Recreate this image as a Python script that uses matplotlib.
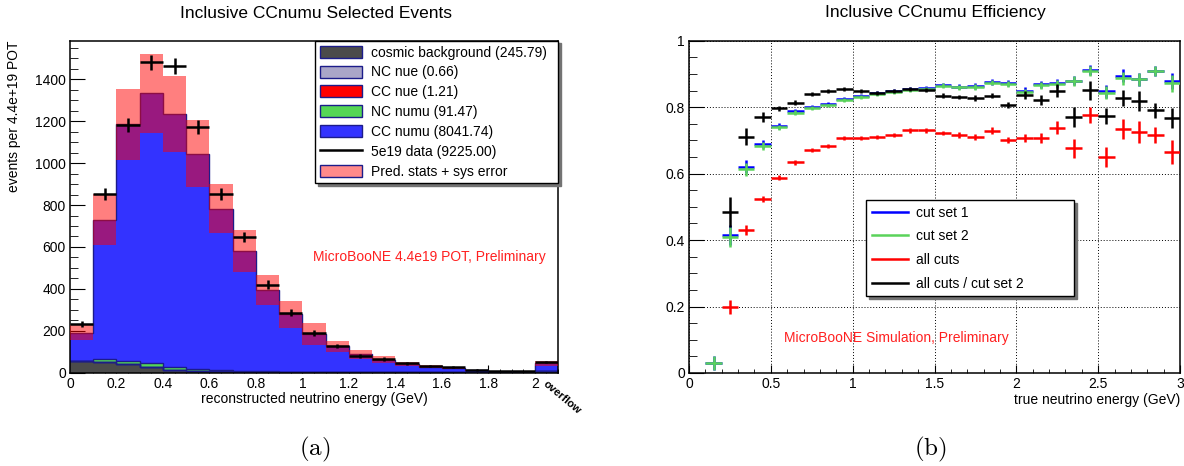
import numpy as np
import matplotlib
matplotlib.use("Agg")
import matplotlib.pyplot as plt
from matplotlib.patches import Patch
from matplotlib.lines import Line2D
from matplotlib.ticker import MultipleLocator, FormatStrFormatter

plt.rcParams['font.family'] = ['Liberation Sans', 'DejaVu Sans']
plt.rcParams['mathtext.fontset'] = 'cm'

# ---- selected events (left) ----
reco_edges = np.round(np.arange(0, 2.11, 0.1), 2)
cosmic = [55, 51, 42, 28, 15, 10, 7, 5, 4, 3, 2.5, 2, 1.5, 1.5, 1, 1, 1, 0.5, 0.5, 0.5, 6]
nc_nue = [0, 0.05, 0.1, 0.1, 0.1, 0.08, 0.06, 0.05, 0.04, 0.03, 0.02, 0.01, 0.01, 0, 0, 0, 0, 0, 0, 0, 0.01]
cc_nue = [0, 0.02, 0.05, 0.1, 0.12, 0.13, 0.13, 0.12, 0.1, 0.09, 0.08, 0.06, 0.05, 0.04, 0.03, 0.02, 0.02, 0.01, 0.01, 0.01, 0.02]
nc_numu = [3, 15, 16, 16, 10, 6, 4, 3, 3, 2, 2, 1.5, 1, 1, 1, 0.5, 0.5, 0.5, 0.3, 0.2, 2]
cc_numu = [133, 664, 1127, 1289, 1210, 1029, 772, 573, 386, 273, 180, 122, 85, 59, 39, 27, 20, 10, 3, 2, 37]
pred_err = [37, 122, 168, 189, 180, 159, 117, 100, 72, 64, 52, 28, 23, 17, 8, 6, 5, 3, 1.5, 1, 11]
data_5e19 = [233, 852, 1182, 1480, 1464, 1174, 852, 648, 420, 287, 188, 128, 78, 66, 45, 32, 26, 13, 7, 7, 51]
data_err = [15, 29, 34, 38, 38, 34, 29, 25, 20, 17, 14, 11, 9, 8, 7, 6, 5, 4, 3, 3, 7]

stack_labels = ["cosmic background (245.79)", "NC nue (0.66)", "CC nue (1.21)",
                "NC numu (91.47)", "CC numu (8041.74)"]
data_label = "5e19 data (9225.00)"
band_label = "Pred. stats + sys error"

# ---- efficiency (right) ----
true_edges = np.round(np.arange(0, 3.01, 0.1), 2)
nan = np.nan
eff_cut1 = [nan, 0.030, 0.415, 0.621, 0.688, 0.743, 0.787, 0.801, 0.810, 0.826, 0.834, 0.844, 0.848, 0.855, 0.857,
            0.867, 0.862, 0.864, 0.876, 0.872, 0.850, 0.869, 0.874, 0.880, 0.912, 0.848, 0.895, 0.884, 0.909, 0.879]
eff_cut2 = [nan, 0.030, 0.408, 0.613, 0.682, 0.739, 0.783, 0.798, 0.805, 0.823, 0.831, 0.841, 0.845, 0.853, 0.855,
            0.865, 0.860, 0.861, 0.874, 0.871, 0.845, 0.866, 0.871, 0.879, 0.910, 0.844, 0.887, 0.884, 0.909, 0.872]
eff_all = [nan, nan, 0.199, 0.431, 0.524, 0.588, 0.634, 0.671, 0.684, 0.706, 0.706, 0.711, 0.716, 0.730, 0.730,
           0.722, 0.716, 0.710, 0.729, 0.701, 0.708, 0.708, 0.738, 0.676, 0.776, 0.651, 0.735, 0.724, 0.716, 0.665]
eff_ratio = [nan, nan, 0.485, 0.711, 0.769, 0.796, 0.813, 0.840, 0.850, 0.855, 0.850, 0.843, 0.850, 0.854, 0.853,
             0.835, 0.831, 0.828, 0.835, 0.806, 0.837, 0.822, 0.850, 0.771, 0.851, 0.773, 0.828, 0.819, 0.790, 0.766]
err_cut = [0, 0.022, 0.03, 0.02, 0.012, 0.008, 0.007, 0.006, 0.006, 0.006, 0.006, 0.006, 0.006, 0.006, 0.006,
           0.007, 0.007, 0.008, 0.008, 0.009, 0.01, 0.01, 0.012, 0.014, 0.015, 0.02, 0.02, 0.02, 0.015, 0.025]
err_all = [0, 0, 0.02, 0.015, 0.01, 0.007, 0.007, 0.006, 0.006, 0.006, 0.006, 0.006, 0.007, 0.007, 0.007,
           0.007, 0.008, 0.01, 0.01, 0.01, 0.012, 0.015, 0.02, 0.028, 0.025, 0.03, 0.03, 0.033, 0.025, 0.035]
err_ratio = [0, 0, 0.045, 0.025, 0.015, 0.008, 0.008, 0.006, 0.006, 0.006, 0.006, 0.006, 0.006, 0.006, 0.006,
             0.007, 0.007, 0.008, 0.008, 0.01, 0.012, 0.014, 0.02, 0.03, 0.028, 0.025, 0.025, 0.03, 0.022, 0.03]
eff_labels = ["cut set 1", "cut set 2", "all cuts", "all cuts / cut set 2"]

stack_colors = ['#4b4b4b', '#aaa6c8', '#ff0000', '#55d655', '#3333ff']
edge_navy = '#1c1c8a'
eff_colors = ['#0000ff', '#5ad35a', '#ff0000', '#000000']

fig = plt.figure(figsize=(11.84, 4.66), dpi=100)
axL = fig.add_axes([70 / 1184, (466 - 372.7) / 466, 488 / 1184, 332 / 466])
axR = fig.add_axes([689 / 1184, (466 - 373) / 466, 491 / 1184, 332.3 / 466])


def root_ticks(ax, xmaj, xmin, ymaj, ymin):
    ax.xaxis.set_major_locator(MultipleLocator(xmaj))
    ax.xaxis.set_minor_locator(MultipleLocator(xmin))
    ax.yaxis.set_major_locator(MultipleLocator(ymaj))
    ax.yaxis.set_minor_locator(MultipleLocator(ymin))
    ax.xaxis.set_major_formatter(FormatStrFormatter('%g'))
    ax.yaxis.set_major_formatter(FormatStrFormatter('%g'))
    ax.tick_params(which='both', direction='in', top=False, right=False, labelsize=10, pad=3)
    ax.tick_params(axis='y', which='major', length=11)
    ax.tick_params(axis='y', which='minor', length=5.5)
    ax.tick_params(axis='x', which='major', length=6)
    ax.tick_params(axis='x', which='minor', length=3)
    for s in ax.spines.values():
        s.set_linewidth(1.1)


# stacked MC prediction
bottom = np.zeros(len(cc_numu))
for vals, col in zip([cosmic, nc_nue, cc_nue, nc_numu, cc_numu], stack_colors):
    top = bottom + np.array(vals)
    axL.stairs(top, reco_edges, baseline=bottom, fill=True, color=col, zorder=2)
    axL.stairs(top, reco_edges, baseline=None, color=edge_navy, lw=1.0, zorder=2.5)
    bottom = top
pred = bottom
perr = np.array(pred_err)
axL.stairs(pred + perr, reco_edges, baseline=pred - perr, fill=True, color='#ff0000', alpha=0.5, lw=0, zorder=3)

reco_centers = 0.5 * (reco_edges[:-1] + reco_edges[1:])
axL.errorbar(reco_centers, data_5e19, xerr=0.05, yerr=data_err, fmt='none', ecolor='black',
             elinewidth=1.8, capsize=0, zorder=4)

axL.set_xlim(0, 2.1)
axL.set_ylim(0, 1584)
root_ticks(axL, 0.2, 0.05, 200, 50)
axL.set_xlabel("reconstructed neutrino energy (GeV)", fontsize=10, labelpad=1)
axL.set_ylabel("events per 4.4e+19 POT", fontsize=10, loc='top')
axL.yaxis.set_label_coords(-0.1, 1.0)
axL.text(0.7357, 0.3485, "MicroBooNE 4.4e19 POT, Preliminary", transform=axL.transAxes,
         color='#ff2020', fontsize=10, ha='center', va='center')

handles = [Patch(facecolor=c, edgecolor=edge_navy, lw=1) for c in stack_colors]
handles.append(Line2D([], [], color='black', lw=1.8))
handles.append(Patch(facecolor='#ff8a8a', edgecolor=edge_navy, lw=1))
legL = axL.legend(handles, stack_labels + [data_label, band_label], loc='upper left',
                  bbox_to_anchor=(0.502, 0.5, 0.498, 0.5), mode='expand', borderaxespad=0,
                  fontsize=10, labelspacing=0.42, handlelength=3.0, handleheight=0.95,
                  handletextpad=0.65, borderpad=0.35, fancybox=False,
                  shadow={'color': '0.45', 'alpha': 1})
legL.get_frame().set_edgecolor('black')
legL.get_frame().set_linewidth(1.0)
legL.set_zorder(6)

fig.text(562 / 1184, 1 - 397 / 466, "overflow", rotation=-40, fontsize=8, fontweight='bold',
         ha='center', va='center')

# efficiencies
true_centers = 0.5 * (true_edges[:-1] + true_edges[1:])
for vals, errs, col in zip([eff_cut1, eff_cut2, eff_all, eff_ratio],
                           [err_cut, err_cut, err_all, err_ratio], eff_colors):
    axR.errorbar(true_centers, vals, xerr=0.05, yerr=errs, fmt='none', ecolor=col,
                 elinewidth=1.8, capsize=0, zorder=3)

axR.set_xlim(0, 3)
axR.set_ylim(0, 1)
root_ticks(axR, 0.5, 0.1, 0.2, 0.05)
axR.grid(True, which='major', ls=(0, (1, 2)), color='black', lw=0.7)
axR.set_axisbelow(True)
axR.set_xlabel("true neutrino energy (GeV)", fontsize=10, loc='right', labelpad=1)
axR.text(0.4226, 0.1053, "MicroBooNE Simulation, Preliminary", transform=axR.transAxes,
         color='#ff2020', fontsize=10, ha='center', va='center')

eff_handles = [Line2D([], [], color=c, lw=1.8) for c in eff_colors]
legR = axR.legend(eff_handles, eff_labels, loc='upper left',
                  bbox_to_anchor=(0.3605, 0.2317, 0.4236, 0.289), mode='expand', borderaxespad=0,
                  fontsize=10, labelspacing=0.7, handlelength=2.6, handletextpad=0.6,
                  borderpad=0.4, fancybox=False, shadow={'color': '0.45', 'alpha': 1})
legR.get_frame().set_edgecolor('black')
legR.get_frame().set_linewidth(1.0)

fig.text(315.5 / 1184, 1 - 13 / 466, "Inclusive CCnumu Selected Events", fontsize=12.5,
         ha='center', va='center')
fig.text(935 / 1184, 1 - 13 / 466, "Inclusive CCnumu Efficiency", fontsize=12.5,
         ha='center', va='center')
fig.text(314.5 / 1184, 1 - 449 / 466, r'$\mathrm{(a)}$', fontsize=18, ha='center', va='center')
fig.text(930 / 1184, 1 - 449 / 466, r'$\mathrm{(b)}$', fontsize=18, ha='center', va='center')

fig.savefig("out.png", dpi=100)
